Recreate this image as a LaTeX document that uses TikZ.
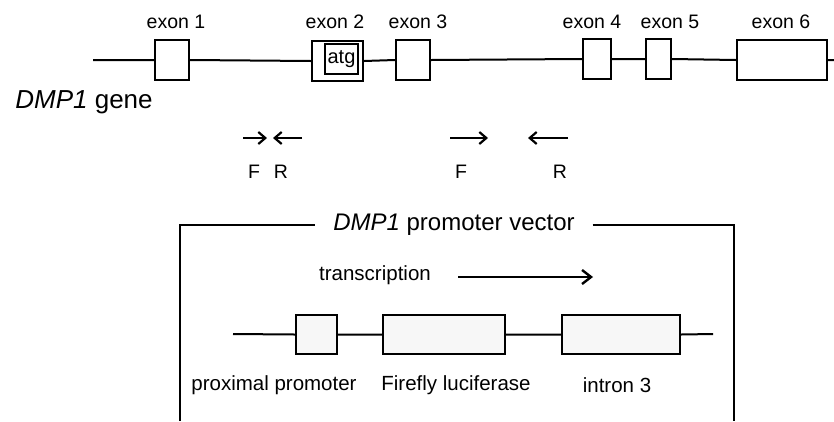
\documentclass[tikz,border=0pt]{standalone}
\usepackage{fontspec}
\setmainfont{Liberation Sans}
\usetikzlibrary{arrows.meta,positioning}
\tikzset{
  exon/.style={draw,rectangle,line width=2.3pt,minimum height=40pt,inner sep=0pt},
  part/.style={draw,rectangle,line width=2.3pt,fill=black!3,minimum height=39pt,inner sep=0pt},
  lbl/.style={font=\fontsize{19.5}{22}\selectfont,inner sep=0pt},
  vlbl/.style={font=\fontsize{20.5}{23}\selectfont,inner sep=0pt},
  primer/.style={->,line width=2pt}
}

\begin{document}
\begin{tikzpicture}[x=1pt,y=-1pt,>={Straight Barb[length=7pt,width=12pt,line width=2.2pt]},line width=2pt]
  \useasboundingbox (0,0) rectangle (834,421);

  % gene
  \coordinate (gs) at (93,60);
  \coordinate (ge) at (834,60);
  \node[exon,minimum width=34pt] (e1) at (172,60) {};
  \node[exon,minimum width=51pt] (e2) at (337.5,61) {};
  \node[draw,line width=2.3pt,minimum width=33pt,minimum height=30pt,inner sep=0pt,
        font=\fontsize{20}{22}\selectfont] (atg) at (341.5,59) {atg};
  \node[exon,minimum width=34pt] (e3) at (413,60) {};
  \node[exon,minimum width=28pt] (e4) at (597,59) {};
  \node[exon,minimum width=25pt] (e5) at (658.5,59) {};
  \node[exon,minimum width=90pt] (e6) at (782,60) {};

  \draw (gs) -- (e1.west) (e1.east) -- (e2.west) (e2.east) -- (e3.west)
        (e3.east) -- (e4.west) (e4.east) -- (e5.west) (e5.east) -- (e6.west)
        (e6.east) -- (ge);

  \node[lbl] (l1) at (176,22) {exon 1};
  \node[lbl] (l2) at (335,22) {exon 2};
  \node[lbl] (l3) at (418,22) {exon 3};
  \node[lbl] (l4) at (592,22) {exon 4};
  \node[lbl] (l5) at (670,22) {exon 5};
  \node[lbl] (l6) at (781,22) {exon 6};

  \node[font=\fontsize{26}{28}\selectfont,inner sep=0pt] (gene) at (84,102) {\textit{DMP1} gene};

  % primers
  \coordinate (f1s) at (243,138); \coordinate (f1e) at (267,138);
  \coordinate (r1s) at (302,138); \coordinate (r1e) at (273,138);
  \coordinate (f2s) at (450,138); \coordinate (f2e) at (488,138);
  \coordinate (r2s) at (568,138); \coordinate (r2e) at (528,138);
  \draw[primer] (f1s) -- (f1e);
  \draw[primer] (r1s) -- (r1e);
  \draw[primer] (f2s) -- (f2e);
  \draw[primer] (r2s) -- (r2e);
  \node[lbl] (f1) at (254,172) {F};
  \node[lbl] (r1) at (281,172) {R};
  \node[lbl] (f2) at (461,172) {F};
  \node[lbl] (r2) at (560,172) {R};

  % vector
  \node[font=\fontsize{24}{26}\selectfont,inner ysep=0pt,inner xsep=17pt] (title) at (454,225) {\textit{DMP1} promoter vector};
  \coordinate (bl) at (180,421);
  \coordinate (br) at (734,421);
  \draw[line width=2.5pt] (bl) |- (title.west);
  \draw[line width=2.5pt] (title.east) -| (br);

  \node[vlbl] (tr) at (375,275) {transcription};
  \coordinate (ts) at (458,277);
  \coordinate (te) at (593,277);
  \draw[->,line width=2.2pt,>={Straight Barb[length=9pt,width=14pt,line width=2.4pt]}] (ts) -- (te);

  \coordinate (vs) at (233,334);
  \coordinate (ve) at (713,334);
  \node[part,minimum width=41pt] (prom) at (316.5,334.5) {};
  \node[part,minimum width=122pt] (luc) at (444,334.5) {};
  \node[part,minimum width=118pt] (intr) at (621,334.5) {};
  \draw (vs) -- (prom.west) (prom.east) -- (luc.west) (luc.east) -- (intr.west) (intr.east) -- (ve);

  \node[vlbl] (lprom) at (274,385) {proximal promoter};
  \node[vlbl] (lluc) at (456,385) {Firefly luciferase};
  \node[vlbl] (lintr) at (617,385) {intron 3};
\end{tikzpicture}
\end{document}
